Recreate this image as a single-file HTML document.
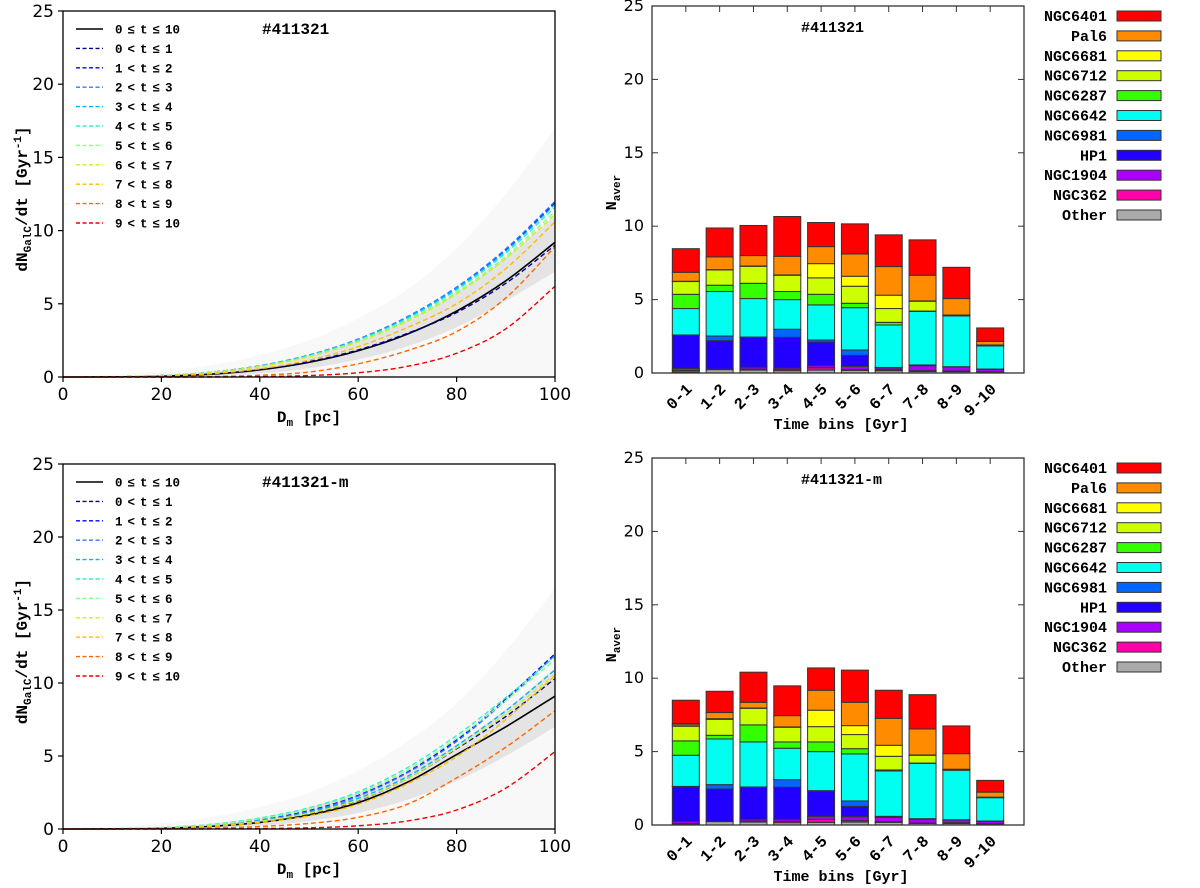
<!DOCTYPE html>
<html><head><meta charset="utf-8"><style>
html,body{margin:0;padding:0;background:#fff;}
svg{display:block;}
</style></head><body>
<svg id="fig" width="1200" height="888" viewBox="0 0 1200 888" xmlns="http://www.w3.org/2000/svg"></svg>
<script>
// ---------- data: line panels ----------
const dmValues=[0,10,20,30,40,50,60,70,80,90,100];
const lineLabels=['0 ≤ t ≤ 10','0 < t ≤ 1','1 < t ≤ 2','2 < t ≤ 3','3 < t ≤ 4','4 < t ≤ 5','5 < t ≤ 6','6 < t ≤ 7','7 < t ≤ 8','8 < t ≤ 9','9 < t ≤ 10'];
const topAll=[0,0.01,0.05,0.19,0.49,1.0,1.79,2.93,4.5,6.57,9.2];
const topT01=[0,0.01,0.06,0.21,0.52,1.05,1.85,2.98,4.4,6.4,9.0];
const topT12=[0,0.01,0.1,0.32,0.76,1.49,2.57,4.08,6.09,8.68,11.9];
const topT23=[0,0.01,0.1,0.32,0.77,1.5,2.59,4.12,6.14,8.75,12.0];
const topT34=[0,0.01,0.09,0.32,0.76,1.48,2.55,4.05,6.04,8.6,11.8];
const topT45=[0,0.01,0.09,0.31,0.74,1.45,2.51,3.98,5.94,8.46,11.6];
const topT56=[0,0.01,0.09,0.31,0.72,1.41,2.44,3.88,5.79,8.24,11.3];
const topT67=[0,0.01,0.09,0.3,0.71,1.39,2.4,3.81,5.68,8.09,11.1];
const topT78=[0,0.01,0.06,0.22,0.56,1.15,2.07,3.38,5.0,7.4,10.6];
const topT89=[0,0,0,0.03,0.12,0.34,0.9,1.8,3.1,5.4,8.9];
const topT910=[0,0,0,0,0.03,0.1,0.29,0.73,1.62,3.29,6.2];
const topEnvHi=[0,0.15,0.4,0.8,1.5,2.5,4.0,6.0,8.8,12.5,17.0];
const topBandHi=[0,0.03,0.12,0.35,0.8,1.5,2.5,3.9,5.8,8.2,11.0];
const topBandLo=[0,0,0.02,0.08,0.25,0.6,1.2,2.1,3.4,5.2,7.2];
const botAll=[0,0.01,0.05,0.18,0.45,0.95,1.8,3.2,5.1,7.0,9.1];
const botT01=[0,0.01,0.06,0.2,0.52,1.05,1.95,3.45,5.5,7.7,10.3];
const botT12=[0,0.01,0.07,0.25,0.62,1.25,2.3,3.9,6.1,8.9,12.0];
const botT23=[0,0.01,0.07,0.24,0.6,1.2,2.25,3.85,6.0,8.8,11.9];
const botT34=[0,0.01,0.07,0.23,0.57,1.15,2.1,3.6,5.7,8.1,10.9];
const botT45=[0,0.02,0.1,0.32,0.75,1.45,2.55,4.2,6.4,9.0,11.8];
const botT56=[0,0.02,0.09,0.29,0.7,1.38,2.45,4.05,6.2,8.8,11.6];
const botT67=[0,0.01,0.06,0.21,0.53,1.08,1.98,3.45,5.55,7.9,10.6];
const botT78=[0,0.01,0.05,0.17,0.45,0.9,1.7,3.1,4.95,7.5,10.5];
const botT89=[0,0,0.02,0.06,0.17,0.38,0.8,1.7,3.5,5.6,8.1];
const botT910=[0,0,0,0.01,0.03,0.08,0.22,0.55,1.3,2.8,5.3];
const botEnvHi=[0,0.15,0.4,0.8,1.5,2.5,4.0,6.0,8.6,12.2,16.5];
const botBandHi=[0,0.03,0.12,0.35,0.8,1.5,2.5,3.9,5.8,8.2,11.0];
const botBandLo=[0,0,0.02,0.07,0.22,0.55,1.1,2.0,3.3,5.0,7.0];
const xTicks=[0,20,40,60,80,100];
const yTicks=[0,5,10,15,20,25];

// ---------- data: bar panels ----------
const binLabels=['0-1','1-2','2-3','3-4','4-5','5-6','6-7','7-8','8-9','9-10'];
const clusterNames=['Other','NGC362','NGC1904','HP1','NGC6981','NGC6642','NGC6287','NGC6712','NGC6681','Pal6','NGC6401'];
const topOther  =[0.05,0.23,0.2,0.16,0.2,0.18,0.16,0.11,0.09,0.05];
const topNGC362 =[0.12,0,0.07,0.09,0.16,0.05,0.07,0.05,0.05,0.02];
const topNGC1904=[0.15,0.03,0.12,0.09,0.14,0.22,0.11,0.34,0.27,0.18];
const topHP1    =[2.27,1.94,2.04,2.09,1.61,0.75,0.02,0.05,0.02,0.02];
const topNGC6981=[0,0.32,0.02,0.55,0.14,0.37,0.02,0,0,0];
const topNGC6642=[1.8,3.03,2.62,2.02,2.39,2.88,2.89,3.65,3.46,1.57];
const topNGC6287=[0.97,0.43,1.04,0.55,0.72,0.3,0.18,0.02,0.03,0];
const topNGC6712=[0.87,1.04,1.16,1.11,1.12,1.16,0.94,0.67,0.03,0.07];
const topNGC6681=[0.02,0.02,0.02,0.02,0.97,0.68,0.91,0.02,0,0];
const topPal6   =[0.61,0.87,0.71,1.27,1.16,1.52,1.95,1.75,1.12,0.25];
const topNGC6401=[1.61,1.97,2.05,2.71,1.64,2.05,2.16,2.41,2.13,0.91];
const botOther  =[0.05,0.23,0.2,0.16,0.18,0.2,0.18,0.11,0.11,0.07];
const botNGC362 =[0.06,0,0.07,0.09,0.21,0.1,0.05,0.02,0.05,0.02];
const botNGC1904=[0.14,0.02,0.12,0.14,0.2,0.27,0.29,0.26,0.18,0.16];
const botHP1    =[2.36,2.2,2.18,2.18,1.71,0.7,0.07,0.04,0.02,0.02];
const botNGC6981=[0.02,0.3,0.02,0.52,0.04,0.37,0,0,0,0];
const botNGC6642=[2.12,3.11,3.07,2.14,2.66,3.2,3.09,3.77,3.37,1.59];
const botNGC6287=[0.98,0.25,1.16,0.43,0.66,0.36,0.07,0.02,0.04,0];
const botNGC6712=[1.0,1.09,1.13,1.0,1.04,0.96,0.93,0.53,0.03,0.04];
const botNGC6681=[0.09,0.04,0.02,0.02,1.12,0.61,0.75,0.02,0,0];
const botPal6   =[0.09,0.42,0.39,0.77,1.36,1.59,1.84,1.77,1.06,0.34];
const botNGC6401=[1.59,1.45,2.05,2.03,1.52,2.19,1.91,2.34,1.89,0.8];
const barTicks=[0,5,10,15,20,25];

// ---------- styles ----------
const lineColors=['#000000','#00008b','#0000ff','#3377ff','#00b4ff','#33eecc','#88ff88','#ccee22','#ffbb00','#ff6600','#ee0000'];
const clusterColors=['#aaaaaa','#ff00aa','#aa00ff','#2200ff','#0066ff','#00fff0','#33ff00','#ccff00','#ffff00','#ff8c00','#ff0000'];
const NS='http://www.w3.org/2000/svg';
const svg=document.getElementById('fig');
function mk(tag,attrs,parent){const e=document.createElementNS(NS,tag);for(const k in attrs)e.setAttribute(k,attrs[k]);(parent||svg).appendChild(e);return e;}
function txt(s,attrs,parent){const e=mk('text',attrs,parent);e.textContent=s;return e;}
const MONO='"Liberation Mono", "DejaVu Sans Mono", monospace';
const SANS='"DejaVu Sans", "Liberation Sans", sans-serif';

function smoothPath(pts){
  let d='M'+pts[0][0].toFixed(2)+','+pts[0][1].toFixed(2);
  for(let i=0;i<pts.length-1;i++){
    const p0=pts[Math.max(0,i-1)],p1=pts[i],p2=pts[i+1],p3=pts[Math.min(pts.length-1,i+2)];
    const c1x=p1[0]+(p2[0]-p0[0])/6,c1y=p1[1]+(p2[1]-p0[1])/6;
    const c2x=p2[0]-(p3[0]-p1[0])/6,c2y=p2[1]-(p3[1]-p1[1])/6;
    d+=' C'+c1x.toFixed(2)+','+c1y.toFixed(2)+' '+c2x.toFixed(2)+','+c2y.toFixed(2)+' '+p2[0].toFixed(2)+','+p2[1].toFixed(2);
  }
  return d;
}

function linePanel(cfg){
  const {x0,x1,y0,yT,series,env,band,title,key}=cfg;
  const g=mk('g',{});
  
  
  const sx=v=>x0+(v-0)/(100-0)*(x1-x0);
  const sy=v=>y0-(v/25)*(y0-yT);
  function area(hi,lo,fill,name){
    const up=dmValues.map((x,i)=>[sx(x),sy(hi[i])]);
    const dn=dmValues.map((x,i)=>[sx(x),sy(lo[i])]).reverse();
    const p=mk('path',{d:smoothPath(up)+' L'+smoothPath(dn).slice(1)+' Z',fill:fill,stroke:'none'},g);
    
    
  }
  area(env,dmValues.map(()=>0),'#f8f8f8','trajectory-envelope');
  area(band[0],band[1],'#e4e4e4','trajectory-band');
  series.forEach((arr,k)=>{
    const pts=dmValues.map((x,i)=>[sx(x),sy(arr[i])]);
    const p=mk('path',{d:smoothPath(pts),fill:'none',stroke:lineColors[k],'stroke-width':k===0?1.6:1.4,'stroke-dasharray':k===0?'none':'5,3'},g);
    
    
  });
  const fr=mk('rect',{x:x0,y:yT,width:x1-x0,height:y0-yT,fill:'none',stroke:'#000','stroke-width':1.3},g);
  
  
  xTicks.forEach(v=>{
    mk('line',{x1:sx(v),x2:sx(v),y1:y0,y2:y0+5,stroke:'#000','stroke-width':1.2},g);
    const t=txt(String(v),{x:sx(v),y:y0+23,'font-family':SANS,'font-size':17,'text-anchor':'middle',fill:'#000'},g);
    
    
  });
  yTicks.forEach(v=>{
    mk('line',{x1:x0-5,x2:x0,y1:sy(v),y2:sy(v),stroke:'#000','stroke-width':1.2},g);
    const t=txt(String(v),{x:x0-9,y:sy(v)+6,'font-family':SANS,'font-size':17,'text-anchor':'end',fill:'#000'},g);
    
    
  });
  const xl=mk('text',{x:(x0+x1)/2,y:y0+45,'font-family':MONO,'font-size':16,'font-weight':'bold','text-anchor':'middle'},g);
  xl.innerHTML='D<tspan font-size="11" dy="4">m</tspan><tspan dy="-4"> [pc]</tspan>';
  
  
  const cy=(y0+yT)/2+5;
  const yl=mk('text',{x:0,y:0,transform:'translate(27,'+cy+') rotate(-90)','font-family':MONO,'font-size':16,'font-weight':'bold','text-anchor':'middle'},g);
  yl.innerHTML='dN<tspan font-size="11" dy="4">GalC</tspan><tspan dy="-4">/dt  [Gyr</tspan><tspan font-size="11" dy="-6">-1</tspan><tspan dy="6">]</tspan>';
  
  
  const tt=txt(title,{x:262,y:yT+23,'font-family':MONO,'font-size':16,'font-weight':'bold',fill:'#000'},g);
  
  
  const lg=mk('g',{},g);
  
  
  lineLabels.forEach((lab,k)=>{
    const y=yT+18+k*19.4;
    const e=mk('g',{},lg);
    
    
    mk('line',{x1:76,x2:103,y1:y,y2:y,stroke:lineColors[k],'stroke-width':1.4,'stroke-dasharray':k===0?'none':'4,2.5'},e);
    txt(lab,{x:115,y:y+4.5,'font-family':MONO,'font-size':12.5,'font-weight':'bold','word-spacing':'-2.5',fill:'#000'},e);
  });
}

function barPanel(cfg){
  const {x0,x1,y0,yT,stacks,title,key}=cfg;
  const g=mk('g',{});
  
  
  const slot=(x1-x0)/11;
  const sx=i=>x0+(i+1)*slot;
  const sy=v=>y0-(v/25)*(y0-yT);
  const bw=27;
  binLabels.forEach((lab,i)=>{
    let cum=0;
    stacks.forEach((arr,k)=>{
      const v=arr[i];
      const r=mk('rect',{x:sx(i)-bw/2,y:sy(cum+v),width:bw,height:Math.max(0,sy(cum)-sy(cum+v)),fill:clusterColors[k],stroke:'#333','stroke-width':1},g);
      
      
      cum+=v;
    });
  });
  const fr=mk('rect',{x:x0,y:yT,width:x1-x0,height:y0-yT,fill:'none',stroke:'#333','stroke-width':1.3},g);
  
  
  binLabels.forEach((lab,i)=>{
    mk('line',{x1:sx(i),x2:sx(i),y1:yT,y2:yT+6,stroke:'#333','stroke-width':1},g);
    const t=txt(lab,{x:0,y:0,transform:'translate('+(sx(i)+7)+','+(y0+17)+') rotate(-45)','font-family':MONO,'font-size':16,'font-weight':'bold','text-anchor':'end',fill:'#000'},g);
    
    
  });
  barTicks.forEach(v=>{
    mk('line',{x1:x0,x2:x0+6,y1:sy(v),y2:sy(v),stroke:'#333','stroke-width':1},g);
    mk('line',{x1:x1-6,x2:x1,y1:sy(v),y2:sy(v),stroke:'#333','stroke-width':1},g);
    const t=txt(String(v),{x:x0-8,y:sy(v)+5,'font-family':SANS,'font-size':16,'text-anchor':'end',fill:'#000'},g);
    
    
  });
  const xl=txt('Time bins [Gyr]',{x:(x0+x1)/2+3,y:y0+56,'font-family':MONO,'font-size':15,'font-weight':'bold','text-anchor':'middle'},g);
  
  
  const yl=mk('text',{x:0,y:0,transform:'translate(616,'+((y0+yT)/2+3)+') rotate(-90)','font-family':MONO,'font-size':15,'font-weight':'bold','text-anchor':'middle'},g);
  yl.innerHTML='N<tspan font-size="11" dy="4">aver</tspan>';
  
  
  const tt=txt(title,{x:801,y:yT+26,'font-family':MONO,'font-size':15,'font-weight':'bold',fill:'#000'},g);
  
  
  const lg=mk('g',{},g);
  
  
  for(let j=0;j<11;j++){
    const k=10-j;
    const y=yT+10+j*19.9;
    const e=mk('g',{},lg);
    
    
    mk('rect',{x:1117,y:y-5,width:44,height:10,fill:clusterColors[k],stroke:'#333','stroke-width':1},e);
    txt(clusterNames[k],{x:1107,y:y+5,'font-family':MONO,'font-size':15,'font-weight':'bold','text-anchor':'end',fill:'#000'},e);
  }
}

linePanel({x0:63,x1:555,y0:377,yT:11,key:'top',title:'#411321',
  series:[topAll,topT01,topT12,topT23,topT34,topT45,topT56,topT67,topT78,topT89,topT910],
  env:topEnvHi,band:[topBandHi,topBandLo]});
linePanel({x0:63,x1:555,y0:829,yT:464,key:'bottom',title:'#411321-m',
  series:[botAll,botT01,botT12,botT23,botT34,botT45,botT56,botT67,botT78,botT89,botT910],
  env:botEnvHi,band:[botBandHi,botBandLo]});
barPanel({x0:652,x1:1024,y0:373,yT:6,key:'top',title:'#411321',
  stacks:[topOther,topNGC362,topNGC1904,topHP1,topNGC6981,topNGC6642,topNGC6287,topNGC6712,topNGC6681,topPal6,topNGC6401]});
barPanel({x0:652,x1:1024,y0:825,yT:458,key:'bottom',title:'#411321-m',
  stacks:[botOther,botNGC362,botNGC1904,botHP1,botNGC6981,botNGC6642,botNGC6287,botNGC6712,botNGC6681,botPal6,botNGC6401]});
</script>
</body></html>
